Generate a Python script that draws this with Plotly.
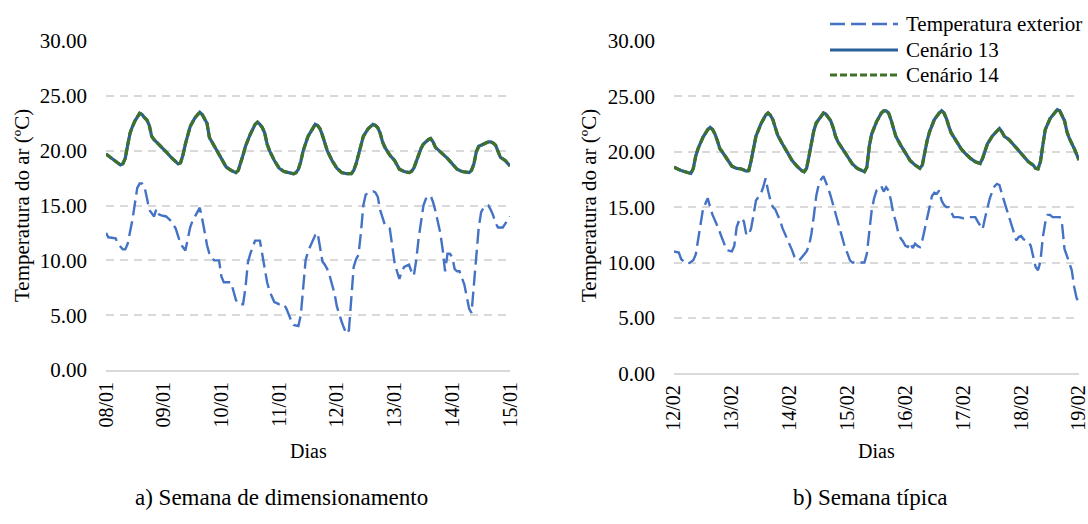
import plotly.graph_objects as go

# ---------------- data ----------------
# a) Semana de dimensionamento (08/01 - 15/01), hours from start
ext_a_h = [0,1,4,5,7,8,9,11,13,14,15,16,17,18,20,21,22,23,25,27,29,30,31,32,33,35,36,37,39,40,41,42,43,44,45,47,48,49,52,53,54,55,57,58,59,60,61,62,64,65,66,67,68,69,70,72,74,75,76,77,78,80,81,82,83,84,86,87,88,89,90,91,92,93,94,95,96,97,98,99,100,101,102,103,104,105,106,107,108,110,111,112,113,114,115,116,118,119,120,121,122,123,124,126,127,128,129,130,131,132,133,134,135,136,137,138,139,140,141,142,143,144,145,146,147,148,149,150,151,152,153,154,155,156,157,158,159,160,161,162,163,165,166,167,168]
ext_a_v = [12.5,12.1,12.0,11.5,11.0,11.0,11.5,13.7,16.6,17.0,17.0,16.7,15.7,14.6,14.0,14.7,14.2,14.1,14.0,13.6,12.9,12.2,11.5,11.2,10.9,13.0,13.6,14.0,14.8,13.8,12.4,11.4,10.6,10.2,10.0,10.0,8.5,8.0,8.0,7.2,6.4,6.0,6.0,7.5,9.8,10.6,11.2,11.8,11.8,10.6,9.2,8.0,7.2,6.6,6.2,6.0,6.0,5.6,5.0,4.5,4.1,4.0,5.0,7.6,10.0,10.8,11.9,12.3,12.5,11.3,9.9,9.6,9.2,8.6,7.8,7.0,5.8,5.0,4.4,3.8,3.3,3.6,7.0,9.4,10.1,10.5,12.5,15.0,16.0,16.2,16.3,16.2,15.8,14.6,13.8,13.2,12.9,11.2,9.8,9.0,8.3,9.0,9.4,9.6,9.0,8.6,10.0,12.0,13.5,15.0,15.6,15.8,15.9,15.3,14.5,13.5,12.5,11.0,9.0,10.6,10.6,10.3,9.2,9.0,9.0,8.4,7.8,6.7,5.6,5.2,8.0,11.0,13.0,14.4,14.8,15.0,15.0,14.6,14.1,13.4,13.0,13.0,13.3,13.7,14.0]

int_a_h = [0,3,6,7,8,9,10,11,12,14,15,16,17,18,19,20,22,23,25,27,29,30,31,32,33,34,35,37,39,40,41,42,43,44,46,48,50,52,54,55,56,57,58,60,62,63,64,65,66,67,68,70,72,74,76,78,79,80,81,82,84,86,87,88,89,90,91,92,94,96,98,100,102,103,104,105,106,107,109,111,112,113,114,115,116,118,120,122,124,126,127,128,129,130,131,132,134,135,136,137,138,140,142,144,146,148,150,151,152,153,154,155,156,158,159,160,161,162,163,164,166,168]
int_a_v = [19.7,19.2,18.7,18.8,19.3,20.5,21.6,22.2,22.7,23.4,23.3,23.0,22.8,22.3,21.3,21.0,20.6,20.4,19.9,19.4,19.0,18.8,18.9,19.6,20.6,21.5,22.2,23.0,23.5,23.3,22.9,22.5,21.2,20.8,20.1,19.3,18.5,18.2,18.0,18.2,18.8,19.6,20.4,21.5,22.4,22.6,22.4,22.1,21.6,20.6,20.0,19.1,18.4,18.1,18.0,17.9,18.0,18.3,19.0,20.0,21.3,22.1,22.4,22.3,22.0,21.4,20.6,20.0,19.1,18.4,18.0,17.9,17.9,18.2,18.8,19.7,20.6,21.3,22.0,22.4,22.3,22.1,21.6,20.8,20.3,19.6,19.1,18.3,18.1,18.0,18.1,18.4,19.0,19.7,20.2,20.6,21.0,21.1,20.8,20.3,20.1,19.7,19.3,18.8,18.3,18.1,18.0,18.0,18.2,18.8,19.9,20.4,20.5,20.7,20.8,20.8,20.7,20.5,19.9,19.4,19.1,18.6]

# b) Semana típica (12/02 - 19/02)
ext_b_h = [0,2,3,5,6,8,9,10,11,12,13,14,15,16,18,20,21,22,24,25,26,27,28,29,30,31,32,33,34,35,36,37,38,39,40,41,42,43,44,45,46,47,48,49,50,51,52,53,54,55,56,57,58,59,60,61,62,63,64,65,66,67,68,69,70,71,72,73,74,76,79,80,81,82,83,84,85,86,87,88,89,90,91,92,93,94,95,96,97,98,99,100,101,102,103,104,105,106,107,108,109,110,111,112,113,114,115,116,118,120,122,125,126,127,128,129,130,131,132,133,134,135,136,137,138,139,140,141,142,143,144,145,146,147,148,149,150,151,152,153,154,155,156,157,160,161,162,163,164,165,166,167,168]
ext_b_v = [11.0,10.9,10.3,9.9,9.9,10.2,10.7,12.0,13.6,14.8,15.3,15.8,15.0,14.3,13.3,12.1,11.6,11.1,11.0,11.5,13.2,13.8,14.0,13.7,12.5,12.5,13.1,14.3,15.6,15.9,16.2,16.8,17.6,16.5,15.6,15.0,14.8,14.3,13.8,13.1,12.6,12.1,11.7,11.1,10.5,10.3,10.2,10.5,10.8,11.0,11.5,12.6,14.2,16.0,17.0,17.5,17.8,17.3,16.7,16.0,15.2,14.4,13.5,12.8,12.0,11.3,10.8,10.2,10.0,10.0,10.0,10.8,12.5,14.7,15.8,16.5,16.6,16.9,16.4,16.8,16.5,15.6,14.4,13.7,12.7,12.2,11.9,11.5,11.4,11.8,11.3,11.7,11.5,11.4,12.0,13.0,14.1,15.3,16.0,16.3,16.2,16.5,15.6,15.2,15.0,15.0,14.6,14.1,14.1,14.0,14.1,14.1,13.7,13.3,13.0,14.0,15.0,15.8,16.4,16.9,17.1,17.0,16.2,15.5,14.9,14.3,13.6,12.8,12.0,12.3,12.4,12.1,12.0,11.9,11.5,10.6,9.6,9.3,10.1,12.3,13.6,14.3,14.3,14.1,14.1,13.4,11.2,10.6,10.0,9.3,7.8,6.8,6.4]

int_b_h = [0,3,6,7,8,9,10,11,12,14,15,16,17,18,19,20,22,24,26,28,30,31,32,33,34,36,38,39,40,41,42,43,45,47,49,51,53,54,55,56,57,58,59,61,62,63,65,66,67,68,70,72,74,76,78,79,80,81,82,84,86,87,88,89,90,91,92,94,96,98,100,102,103,104,105,106,108,110,111,112,113,114,115,117,119,121,123,125,126,127,128,129,130,132,134,135,136,137,139,141,143,145,147,149,150,151,152,153,154,156,158,159,160,161,162,163,164,166,168]
int_b_v = [18.6,18.3,18.1,18.05,18.5,19.6,20.3,20.8,21.3,22.0,22.2,22.0,21.6,21.0,20.3,20.0,19.3,18.7,18.5,18.45,18.25,18.3,19.2,20.5,21.4,22.5,23.3,23.5,23.3,22.9,22.2,21.5,20.7,19.9,19.2,18.7,18.3,18.2,18.5,19.6,20.9,21.9,22.6,23.2,23.5,23.4,22.8,22.2,21.4,20.9,20.2,19.5,18.9,18.5,18.25,18.2,18.6,20.5,21.6,22.7,23.5,23.7,23.7,23.5,22.9,22.0,21.4,20.6,19.9,19.2,18.8,18.5,18.8,20.0,21.0,21.8,22.9,23.5,23.7,23.5,23.0,22.3,21.7,21.0,20.3,19.8,19.4,19.1,19.0,18.95,19.4,20.1,20.7,21.4,21.9,22.1,21.8,21.4,21.1,20.6,20.0,19.5,19.1,18.8,18.5,18.45,19.1,20.6,22.0,23.0,23.5,23.8,23.7,23.3,22.8,21.8,21.2,20.3,19.25]

tick_hours = [0, 24, 48, 72, 96, 120, 144, 168]
ticks_a = ["08/01", "09/01", "10/01", "11/01", "12/01", "13/01", "14/01", "15/01"]
ticks_b = ["12/02", "13/02", "14/02", "15/02", "16/02", "17/02", "18/02", "19/02"]
y_ticks = [0, 5, 10, 15, 20, 25, 30]
series_names = ["Temperatura exterior", "Cenário 13", "Cenário 14"]
captions = ["a) Semana de dimensionamento", "b) Semana típica"]

# ---------------- styles ----------------
W, H = 1088, 524
FONT = "Liberation Serif"
C_EXT = "#4472C4"
C_13 = "#2A5F9A"
C_14 = "#3F7228"
GRID = "#D9D9D9"
DASH_EXT = "15px,6px"
DASH_14 = "7px,3px"

def px(x):
    return x / W

def py(y):
    return 1 - y / H

fig = go.Figure()

panels = [
    ("x", "y", ext_a_h, ext_a_v, int_a_h, int_a_v),
    ("x2", "y2", ext_b_h, ext_b_v, int_b_h, int_b_v),
]
for xa, ya, eh, ev, ih, iv in panels:
    fig.add_trace(go.Scatter(x=eh, y=ev, xaxis=xa, yaxis=ya, mode="lines",
                             line=dict(color=C_EXT, width=2.4, dash=DASH_EXT),
                             name=series_names[0], showlegend=False))
    fig.add_trace(go.Scatter(x=ih, y=iv, xaxis=xa, yaxis=ya, mode="lines",
                             line=dict(color=C_13, width=3.2),
                             name=series_names[1], showlegend=False))
    fig.add_trace(go.Scatter(x=ih, y=iv, xaxis=xa, yaxis=ya, mode="lines",
                             line=dict(color=C_14, width=3.2, dash=DASH_14),
                             name=series_names[2], showlegend=False))

def xaxis(dom, labels, anchor):
    return dict(domain=dom, range=[0, 168], tickmode="array", tickvals=tick_hours,
                ticktext=labels, tickangle=-90, showgrid=False, zeroline=False,
                showline=True, linecolor=GRID, linewidth=2, ticks="",
                automargin=False, anchor=anchor, ticklabelstandoff=2,
                ticklabeloverflow="allow",
                tickfont=dict(family=FONT, size=20, color="#000"))

def yaxis(dom, anchor):
    return dict(domain=dom, range=[0, 30], tickmode="array", tickvals=y_ticks,
                tickformat=".2f", showgrid=True, gridcolor=GRID, gridwidth=1.5,
                griddash="8px,6px", zeroline=False, showline=False, anchor=anchor,
                ticklabelstandoff=18, automargin=False,
                tickfont=dict(family=FONT, size=21, color="#000"))

fig.update_layout(
    width=W, height=H, autosize=False,
    margin=dict(l=0, r=0, t=0, b=0),
    paper_bgcolor="white", plot_bgcolor="white",
    showlegend=False,
    xaxis=xaxis([px(106), px(510)], ticks_a, "y"),
    yaxis=yaxis([py(370), py(41)], "x"),
    xaxis2=xaxis([px(674), px(1079)], ticks_b, "y2"),
    yaxis2=yaxis([py(373.3), py(41)], "x2"),
)

ann = []
# y-axis titles
for xc in (22, 589):
    ann.append(dict(text="Temperatura do ar (ºC)", x=px(xc), y=py(206), xref="paper", yref="paper",
                    textangle=-90, showarrow=False, xanchor="center", yanchor="middle",
                    font=dict(family=FONT, size=21, color="#000")))
# x-axis titles
for xc in (308, 876):
    ann.append(dict(text="Dias", x=px(xc), y=py(451), xref="paper", yref="paper",
                    showarrow=False, xanchor="center", yanchor="middle",
                    font=dict(family=FONT, size=20, color="#000")))
# captions
for xc, t in zip((281, 870), captions):
    ann.append(dict(text=t, x=px(xc), y=py(497), xref="paper", yref="paper",
                    showarrow=False, xanchor="center", yanchor="middle",
                    font=dict(family=FONT, size=23, color="#000")))

# legend (drawn manually)
shapes = [dict(type="rect", xref="paper", yref="paper", x0=px(794), x1=1, y0=py(90), y1=py(8),
               fillcolor="white", line=dict(width=0), layer="above")]
leg_rows = [(24, C_EXT, "dash", 2.4), (50, C_13, "solid", 3.2), (75, C_14, "dot", 3.2)]
for (yy, col, d, w), name in zip(leg_rows, series_names):
    dash = {"dash": DASH_EXT, "solid": "solid", "dot": DASH_14}[d]
    shapes.append(dict(type="line", xref="paper", yref="paper", x0=px(830), x1=px(898),
                       y0=py(yy), y1=py(yy), line=dict(color=col, width=w, dash=dash), layer="above"))
    ann.append(dict(text=name, x=px(904), y=py(yy), xref="paper", yref="paper",
                    showarrow=False, xanchor="left", yanchor="middle",
                    font=dict(family=FONT, size=21, color="#000")))

fig.update_layout(annotations=ann, shapes=shapes)
fig.write_html("out.html", config={"displayModeBar": False},
               post_script="document.body.style.margin='0';document.body.style.overflow='hidden';")
